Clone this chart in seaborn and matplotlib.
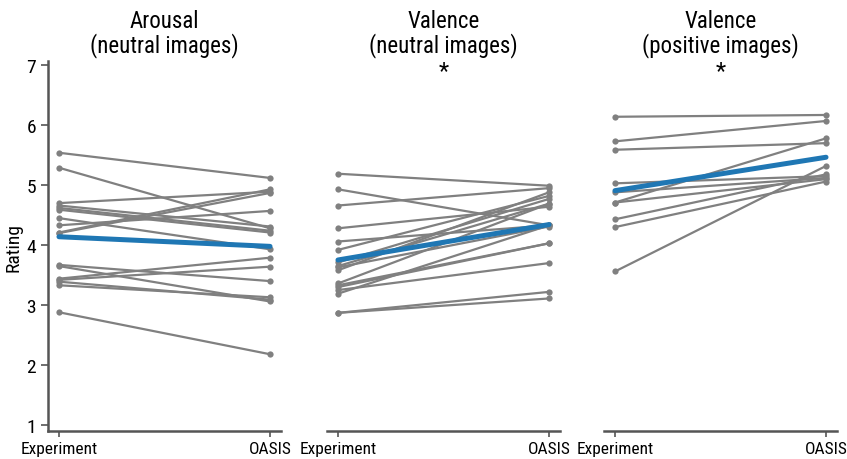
import matplotlib
matplotlib.use("Agg")
import matplotlib.pyplot as plt
from matplotlib import font_manager
import seaborn as sns
import pandas as pd
import numpy as np

conditions = ["Experiment", "OASIS"]
titles = ["Arousal\n(neutral images)", "Valence\n(neutral images)", "Valence\n(positive images)"]
significant = [False, True, True]

arousal_neutral_exp = [5.54, 5.29, 4.70, 4.66, 4.62, 4.59, 4.45, 4.33, 4.21, 4.20,
                       3.67, 3.65, 3.44, 3.42, 3.39, 3.33, 2.88]
arousal_neutral_oasis = [5.12, 4.28, 4.89, 4.31, 4.24, 4.21, 3.93, 4.57, 4.93, 4.87,
                         3.40, 3.06, 3.79, 3.64, 3.09, 3.13, 2.18]

valence_neutral_exp = [5.19, 4.93, 4.66, 4.28, 4.06, 3.92, 3.71, 3.65, 3.63, 3.58,
                       3.36, 3.33, 3.30, 3.25, 3.19, 2.87, 2.87]
valence_neutral_oasis = [4.99, 4.33, 4.95, 4.64, 4.33, 4.82, 4.77, 4.69, 4.31, 4.88,
                         4.69, 4.03, 4.03, 3.70, 4.33, 3.22, 3.11]

valence_positive_exp = [6.14, 5.73, 5.59, 5.03, 4.88, 4.71, 4.71, 4.43, 4.30, 3.56]
valence_positive_oasis = [6.17, 6.07, 5.70, 5.15, 5.12, 5.78, 5.10, 5.18, 5.06, 5.32]

panels = [
    (arousal_neutral_exp, arousal_neutral_oasis),
    (valence_neutral_exp, valence_neutral_oasis),
    (valence_positive_exp, valence_positive_oasis),
]

sns.set_theme(style="ticks")
installed = {f.name for f in font_manager.fontManager.ttflist}
candidates = ["Roboto Condensed", "Liberation Sans Narrow", "Arial Narrow",
              "Open Sans Condensed", "Noto Sans Condensed"]
narrow = [c for c in candidates if c in installed]
if narrow:
    fam = [narrow[0], "DejaVu Sans"]
    scale = 1.0
else:
    fam = ["Liberation Sans", "DejaVu Sans"]
    scale = 0.84
plt.rcParams["font.family"] = fam
plt.rcParams["text.color"] = "black"
plt.rcParams["axes.labelcolor"] = "black"

fig = plt.figure(figsize=(8.47, 4.6), dpi=100)
lefts = [48 / 847, 327 / 847, 604 / 847]
width = 233 / 847
bottom = 1 - 432 / 460
height = 370 / 460

spine_color = "#555555"
for i, (exp_vals, oasis_vals) in enumerate(panels):
    ax = fig.add_axes([lefts[i], bottom, width, height])
    n = len(exp_vals)
    df = pd.DataFrame({
        "subject": list(range(n)) * 2,
        "x": [0] * n + [1] * n,
        "rating": list(exp_vals) + list(oasis_vals),
    })
    sns.lineplot(data=df, x="x", y="rating", units="subject", estimator=None,
                 color="#808080", linewidth=1.6, marker="o", markersize=4.5,
                 markeredgewidth=0, ax=ax, legend=False)
    sns.lineplot(data=df, x="x", y="rating", estimator="mean", errorbar=None,
                 color="#1f77b4", linewidth=3.6, ax=ax, legend=False)
    ax.set_xlim(-0.052, 1.052)
    ax.set_ylim(0.9, 7.07)
    ax.set_xticks([0, 1])
    ax.set_xticklabels(conditions, fontsize=12.5 * scale, color="black")
    ax.set_xlabel("")
    ax.set_title(titles[i], fontsize=16.5 * scale, pad=7, linespacing=1.0, color="black")
    sns.despine(ax=ax)
    ax.spines["bottom"].set_color(spine_color)
    ax.spines["bottom"].set_linewidth(1.8)
    ax.tick_params(axis="x", colors=spine_color, labelcolor="black", length=4, width=1.2, pad=3)
    if i == 0:
        ax.set_yticks([1, 2, 3, 4, 5, 6, 7])
        ax.set_yticklabels([str(v) for v in range(1, 8)], fontsize=14 * scale, color="black")
        ax.set_ylabel("Rating", fontsize=14 * scale, labelpad=3)
        ax.spines["left"].set_color(spine_color)
        ax.spines["left"].set_linewidth(1.8)
        ax.tick_params(axis="y", colors=spine_color, labelcolor="black", length=5, width=1.2)
    else:
        ax.spines["left"].set_visible(False)
        ax.set_yticks([])
        ax.set_ylabel("")
    if significant[i]:
        ax.text(0.5, 0.975, "*", transform=ax.transAxes, ha="center", va="center",
                fontsize=17 * scale)

fig.savefig("out.png", dpi=100)
